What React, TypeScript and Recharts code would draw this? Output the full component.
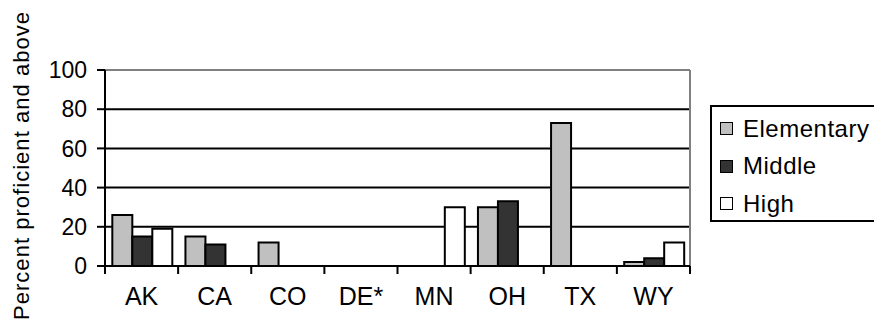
import { BarChart, Bar, XAxis, YAxis, CartesianGrid, Legend, ReferenceLine } from "recharts";

const states = ["AK", "CA", "CO", "DE*", "MN", "OH", "TX", "WY"];
const elementary = [26, 15, 12, null, null, 30, 73, 2];
const middle = [15, 11, null, null, null, 33, null, 4];
const high = [19, null, null, null, 30, null, null, 12];
const yTicks = [0, 20, 40, 60, 80, 100];

const series = [
  { key: "elementary", name: "Elementary", fill: "#c0c0c0" },
  { key: "middle", name: "Middle", fill: "#333333" },
  { key: "high", name: "High", fill: "#ffffff" },
];

const data = states.map((state, i) => ({
  state,
  elementary: elementary[i],
  middle: middle[i],
  high: high[i],
}));

const FONT = "'Liberation Sans', Arial, sans-serif";
const WIDTH = 874;
const HEIGHT = 324;
const Y_AXIS_WIDTH = 105;
const MARGIN = { top: 70, right: 184, bottom: 57, left: 0 };
// width of one state group on the category axis
const BAND = (WIDTH - MARGIN.left - MARGIN.right - Y_AXIS_WIDTH) / states.length;

// state label plus the tick marks between groups
function StateTick({ x, y, payload, index }: any) {
  const left = x - BAND / 2;
  const right = x + BAND / 2;
  return (
    <g>
      <line x1={left} y1={y} x2={left} y2={y + 8} stroke="#000" strokeWidth={2} />
      {index === states.length - 1 && (
        <line x1={right} y1={y} x2={right} y2={y + 8} stroke="#000" strokeWidth={2} />
      )}
      <text
        x={x}
        y={y + 21}
        dy="0.72em"
        textAnchor="middle"
        fontFamily={FONT}
        fontSize={25}
        fill="#000"
      >
        {payload.value}
      </text>
    </g>
  );
}

function PercentTick({ x, y, payload }: any) {
  return (
    <text
      x={x}
      y={y}
      dy="0.36em"
      textAnchor="end"
      fontFamily={FONT}
      fontSize={23}
      fill="#000"
    >
      {payload.value}
    </text>
  );
}

function YTitle({ viewBox }: any) {
  const x = viewBox.x + 21;
  const y = viewBox.y + viewBox.height / 2 - 2;
  return (
    <text
      x={x}
      y={y}
      transform={`rotate(-90, ${x}, ${y})`}
      textAnchor="middle"
      dominantBaseline="central"
      fontFamily={FONT}
      fontSize={22}
      fill="#000"
      textLength={308}
      lengthAdjust="spacing"
    >
      Percent proficient and above
    </text>
  );
}

function LegendBox() {
  return (
    <div
      style={{
        boxSizing: "border-box",
        width: 180,
        height: 117,
        border: "2px solid #000",
        background: "#fff",
        padding: "3px 0 0 8px",
        fontFamily: FONT,
        fontSize: 24,
        letterSpacing: 0.5,
        color: "#000",
      }}
    >
      {series.map((s) => (
        <div key={s.key} style={{ height: 37.5, display: "flex", alignItems: "center" }}>
          <span
            style={{
              boxSizing: "border-box",
              width: 13,
              height: 13,
              border: "1.5px solid #000",
              background: s.fill,
              marginRight: 10,
            }}
          />
          <span>{s.name}</span>
        </div>
      ))}
    </div>
  );
}

export default function App() {
  return (
    <div
      style={{
        position: "absolute",
        left: 0,
        top: 0,
        width: WIDTH,
        height: HEIGHT,
        overflow: "hidden",
        background: "#fff",
      }}
    >
      <BarChart
        width={WIDTH}
        height={HEIGHT}
        data={data}
        margin={MARGIN}
        barCategoryGap="10%"
        barGap={0}
      >
        <CartesianGrid vertical={false} stroke="#000" strokeWidth={2} />
        <XAxis
          dataKey="state"
          height={1}
          axisLine={{ stroke: "#000", strokeWidth: 2 }}
          tickLine={false}
          tickSize={0}
          tickMargin={0}
          interval={0}
          tick={<StateTick />}
        />
        <YAxis
          width={Y_AXIS_WIDTH}
          domain={[0, 100]}
          ticks={yTicks}
          interval={0}
          axisLine={{ stroke: "#000", strokeWidth: 2 }}
          tickLine={{ stroke: "#000", strokeWidth: 2 }}
          tickSize={8}
          tickMargin={10}
          tick={<PercentTick />}
          label={{ content: YTitle }}
        />
        {/* grey plot-area border on top and right */}
        <ReferenceLine y={100} stroke="#808080" strokeWidth={2} />
        <ReferenceLine x="WY" position="end" stroke="#808080" strokeWidth={2} />
        {series.map((s) => (
          <Bar
            key={s.key}
            dataKey={s.key}
            name={s.name}
            fill={s.fill}
            stroke="#000"
            strokeWidth={2}
            isAnimationActive={false}
          />
        ))}
        <Legend
          layout="vertical"
          align="center"
          verticalAlign="middle"
          content={<LegendBox />}
          wrapperStyle={{ left: 710, top: 105, width: 180, height: 117 }}
        />
      </BarChart>
    </div>
  );
}
